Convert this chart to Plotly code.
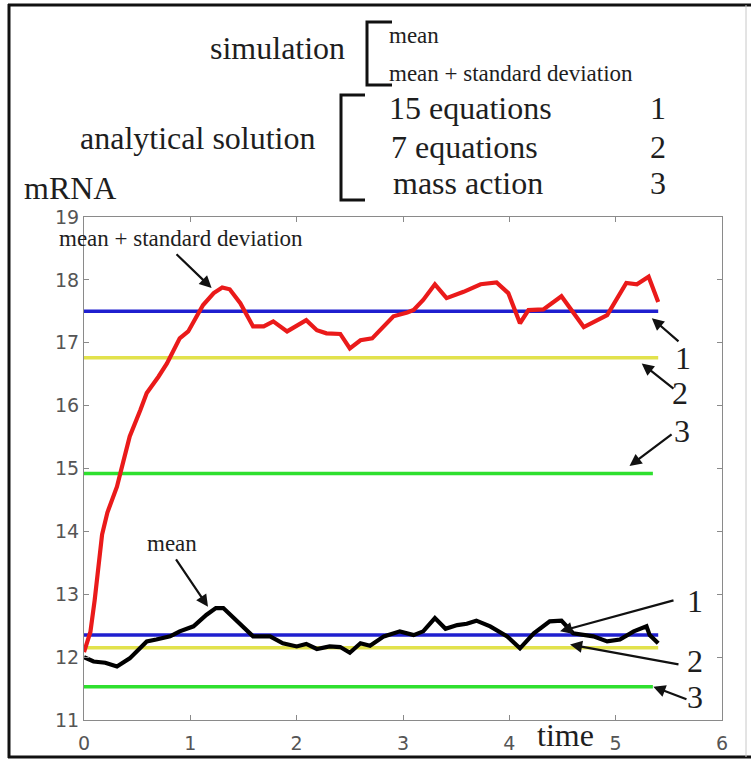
import plotly.graph_objects as go

# ---------------- data ----------------
t_sd = [0.00, 0.06, 0.10, 0.17, 0.22, 0.31, 0.35, 0.43, 0.53, 0.59, 0.70, 0.78,
        0.90, 0.98, 1.06, 1.12, 1.22, 1.30, 1.37, 1.47, 1.59, 1.69, 1.78, 1.91,
        2.09, 2.19, 2.28, 2.41, 2.50, 2.60, 2.71, 2.82, 2.91, 3.04, 3.10, 3.19,
        3.30, 3.41, 3.57, 3.73, 3.88, 3.99, 4.10, 4.18, 4.32, 4.49, 4.70, 4.92,
        5.10, 5.20, 5.31, 5.40]
mean_sd = [12.08, 12.40, 12.90, 13.95, 14.30, 14.71, 14.98, 15.51, 15.93, 16.20,
           16.46, 16.67, 17.07, 17.18, 17.42, 17.60, 17.79, 17.88, 17.85, 17.63,
           17.26, 17.26, 17.34, 17.18, 17.36, 17.20, 17.15, 17.14, 16.91, 17.04,
           17.07, 17.26, 17.42, 17.48, 17.52, 17.68, 17.93, 17.71, 17.81, 17.93,
           17.96, 17.79, 17.31, 17.52, 17.53, 17.74, 17.25, 17.44, 17.95, 17.93,
           18.05, 17.65]

t_mean = [0.00, 0.09, 0.20, 0.31, 0.43, 0.59, 0.68, 0.81, 0.90, 1.03, 1.15, 1.24,
          1.31, 1.44, 1.59, 1.75, 1.87, 2.00, 2.09, 2.19, 2.31, 2.41, 2.50, 2.60,
          2.69, 2.82, 2.97, 3.10, 3.19, 3.30, 3.40, 3.51, 3.60, 3.69, 3.82, 3.98,
          4.10, 4.23, 4.38, 4.49, 4.60, 4.79, 4.92, 5.04, 5.17, 5.29, 5.32, 5.40]
mean_vals = [12.00, 11.93, 11.91, 11.85, 11.98, 12.25, 12.28, 12.33, 12.41, 12.49,
             12.67, 12.78, 12.78, 12.57, 12.33, 12.33, 12.22, 12.17, 12.21, 12.13,
             12.17, 12.16, 12.07, 12.22, 12.18, 12.33, 12.41, 12.35, 12.41, 12.62,
             12.45, 12.51, 12.53, 12.58, 12.49, 12.33, 12.14, 12.38, 12.57, 12.58,
             12.38, 12.33, 12.25, 12.28, 12.41, 12.49, 12.35, 12.22]

# analytical solutions: 1 = 15 equations, 2 = 7 equations, 3 = mass action
analytic_sd = [17.50, 16.76, 14.92]
analytic_mean = [12.35, 12.15, 11.53]
analytic_end = [5.40, 5.40, 5.35]
analytic_colors = ["#1f1fcf", "#e2e24c", "#2ee02e"]
analytic_labels = ["1", "2", "3"]

x_ticks = [0, 1, 2, 3, 4, 5, 6]
y_ticks = [11, 12, 13, 14, 15, 16, 17, 18, 19]

# ---------------- layout geometry ----------------
WIDTH, HEIGHT = 751, 760
L, R, T, B = 84, 29, 217, 40
PW, PH = WIDTH - L - R, HEIGHT - T - B


def PX(px):
    return (px - L) / PW


def PY(py):
    return (T + PH - py) / PH


SERIF = "Liberation Serif"
TXT = "#1e1e1e"

fig = go.Figure()

for lvl_sd, lvl_m, xe, col in zip(analytic_sd, analytic_mean, analytic_end, analytic_colors):
    for lv in (lvl_sd, lvl_m):
        fig.add_trace(go.Scatter(x=[0, xe], y=[lv, lv], mode="lines",
                                 line=dict(color=col, width=3.5),
                                 showlegend=False, hoverinfo="skip"))

fig.add_trace(go.Scatter(x=t_sd, y=mean_sd, mode="lines",
                         line=dict(color="#ea1a1a", width=4.2),
                         showlegend=False))
fig.add_trace(go.Scatter(x=t_mean, y=mean_vals, mode="lines",
                         line=dict(color="#000000", width=4.2),
                         showlegend=False))

axis_common = dict(showgrid=False, zeroline=False, showline=True, linecolor="#8a8a8a",
                   linewidth=1, mirror="ticks", ticks="inside", ticklen=5,
                   tickcolor="#8a8a8a", automargin=False,
                   tickfont=dict(family="DejaVu Sans", size=19, color="#555555"))
fig.update_xaxes(range=[0, 6], tickvals=x_ticks, ticktext=[str(v) for v in x_ticks],
                 ticklabelstandoff=6, **axis_common)
fig.update_yaxes(range=[11, 19], tickvals=y_ticks, ticktext=[str(v) for v in y_ticks],
                 **axis_common)

ann = []


def text(px, py_base, s, size, anchor="left"):
    ann.append(dict(x=PX(px), y=PY(py_base - 0.30 * size), xref="paper", yref="paper",
                    text=s, showarrow=False, xanchor=anchor, yanchor="middle",
                    font=dict(family=SERIF, size=size, color=TXT)))


def arrow(tail, head, head_style=2):
    ann.append(dict(x=head[0], y=head[1], ax=tail[0], ay=tail[1], xref="x", yref="y",
                    axref="x", ayref="y", text="", showarrow=True, arrowhead=head_style,
                    arrowsize=1.1, arrowwidth=2.2, arrowcolor="#111111"))


# header
text(347, 58, "simulation", 32, "right")
text(318, 148, "analytical solution", 32, "right")
text(387, 42, "mean", 23)
text(387, 80, "mean + standard deviation", 23)
text(387, 118, "15 equations", 32)
text(389, 157, "7 equations", 32)
text(391, 193, "mass action", 32)
for lab, yb in zip(analytic_labels, [118, 157, 193]):
    text(658, yb, lab, 32, "center")
text(22, 198, "mRNA", 32)

# in-plot labels
text(181, 245, "mean + standard deviation", 23, "center")
text(172, 550, "mean", 23, "center")
text(565, 745, "time", 32, "center")

arrow((0.856, 18.43), (1.20, 17.87))
arrow((0.856, 13.58), (1.166, 12.80))

# upper labels 1,2,3
arrow((5.605, 17.00), (5.34, 17.39))
arrow((5.558, 16.25), (5.245, 16.67))
arrow((5.54, 15.56), (5.13, 15.04))
text(683, 368, analytic_labels[0], 32, "center")
text(680, 403, analytic_labels[1], 32, "center")
text(682, 441, analytic_labels[2], 32, "center")

# lower labels 1,2,3
arrow((5.558, 12.91), (4.477, 12.41))
arrow((5.605, 11.88), (4.571, 12.20))
arrow((5.68, 11.32), (5.354, 11.53))
text(695, 611, analytic_labels[0], 32, "center")
text(695, 671, analytic_labels[1], 32, "center")
text(695, 707, analytic_labels[2], 32, "center")

shapes = []
# brackets
shapes.append(dict(type="path", xref="paper", yref="paper",
                   path=f"M {PX(392)} {PY(22)} L {PX(367)} {PY(22)} L {PX(367)} {PY(85)} L {PX(392)} {PY(85)}",
                   line=dict(color="#111111", width=3)))
shapes.append(dict(type="path", xref="paper", yref="paper",
                   path=f"M {PX(365)} {PY(95)} L {PX(341)} {PY(95)} L {PX(341)} {PY(200)} L {PX(365)} {PY(200)}",
                   line=dict(color="#111111", width=3)))
# outer frame
shapes.append(dict(type="line", xref="paper", yref="paper", x0=PX(9), x1=PX(9),
                   y0=PY(4), y1=PY(758), line=dict(color="#111111", width=3)))
shapes.append(dict(type="line", xref="paper", yref="paper", x0=PX(8), x1=PX(751),
                   y0=PY(5), y1=PY(5), line=dict(color="#111111", width=3)))
shapes.append(dict(type="line", xref="paper", yref="paper", x0=PX(8), x1=PX(751),
                   y0=PY(757), y1=PY(757), line=dict(color="#111111", width=3)))
shapes.append(dict(type="line", xref="paper", yref="paper", x0=PX(746), x1=PX(746),
                   y0=PY(5), y1=PY(757), line=dict(color="#c8c8c8", width=1)))

fig.update_layout(width=WIDTH, height=HEIGHT, margin=dict(l=L, r=R, t=T, b=B),
                  paper_bgcolor="white", plot_bgcolor="white",
                  annotations=ann, shapes=shapes, showlegend=False)

fig.write_html("out.html", config={"displayModeBar": False},
               post_script="document.body.style.margin='0';document.body.style.padding='0';"
                           "document.body.style.overflow='hidden';")
